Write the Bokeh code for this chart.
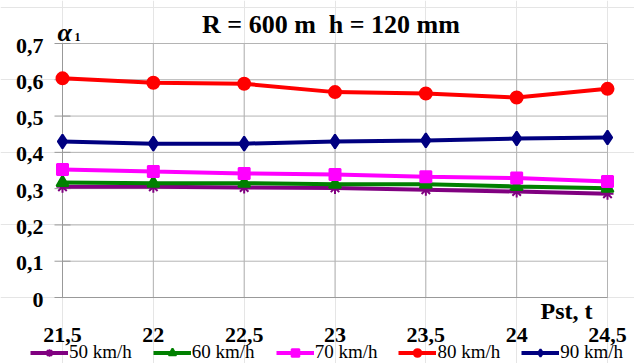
from bokeh.plotting import figure, ColumnDataSource
from bokeh.models import Legend, LegendItem, Range1d
from bokeh.core.properties import value
from bokeh.embed import file_html
from bokeh.resources import INLINE

# ---- data ----
pst = [21.5, 22, 22.5, 23, 23.5, 24, 24.5]
x_tick_labels = ["21,5", "22", "22,5", "23", "23,5", "24", "24,5"]
y_ticks = [0, 0.1, 0.2, 0.3, 0.4, 0.5, 0.6, 0.7]
y_tick_labels = ["0", "0,1", "0,2", "0,3", "0,4", "0,5", "0,6", "0,7"]
v50 = [0.305, 0.305, 0.303, 0.302, 0.297, 0.292, 0.286]
v60 = [0.317, 0.315, 0.315, 0.312, 0.312, 0.306, 0.301]
v70 = [0.353, 0.347, 0.342, 0.339, 0.333, 0.329, 0.320]
v80 = [0.604, 0.592, 0.589, 0.566, 0.562, 0.551, 0.575]
v90 = [0.430, 0.424, 0.424, 0.430, 0.433, 0.438, 0.441]
series_names = ["50 km/h", "60 km/h", "70 km/h", "80 km/h", "90 km/h"]
title_text = "R = 600 m \u00a0h = 120 mm"
x_title = "Pst, t"

FONT = value("Liberation Serif")

# plot area 21.5..24.5 x 0..0.7; the frame covers the whole canvas so that
# all texts can be drawn around the plot area
x_lo, x_hi = pst[0], pst[-1]
y_lo, y_hi = y_ticks[0], y_ticks[-1]
W, H = 634, 363
L, T = 62, 43
R, B = W - 607, H - 297
px_x = (W - L - R) / (x_hi - x_lo)
px_y = (H - T - B) / (y_hi - y_lo)
p = figure(width=W, height=H, output_backend="svg", toolbar_location=None,
           x_range=Range1d(x_lo - L / px_x, x_hi + R / px_x),
           y_range=Range1d(y_lo - B / px_y, y_hi + T / px_y),
           x_axis_location=None, y_axis_location=None, min_border=0)
p.outline_line_color = None
p.background_fill_color = "white"
p.border_fill_color = "white"

GRID = "#b4b4b4"
AX = "#999999"
# grid lines (from the tick arrays)
p.multi_line(xs=[[x, x] for x in pst], ys=[[y_lo, y_hi] for _ in pst],
             line_color=GRID, line_width=1)
p.multi_line(xs=[[x_lo, x_hi] for _ in y_ticks], ys=[[y, y] for y in y_ticks],
             line_color=GRID, line_width=1)
# axis lines
p.line(x=[x_lo, x_lo], y=[y_hi, y_lo], line_color=AX, line_width=1)
p.line(x=[x_lo, x_hi], y=[y_lo, y_lo], line_color=AX, line_width=1)
# y tick marks
p.scatter(x=[x_lo] * len(y_ticks), y=y_ticks, marker="dash", size=16,
          line_color=AX, line_width=1)

# tick labels
p.text(x=[x_lo] * len(y_ticks), y=y_ticks, text=y_tick_labels, x_offset=-19, y_offset=2,
       text_align="right", text_baseline="middle", text_font=FONT,
       text_font_style="bold", text_font_size="22px", text_color="black")
p.text(x=pst, y=[y_lo] * len(pst), text=x_tick_labels, y_offset=37,
       text_align="center", text_baseline="middle", text_font=FONT,
       text_font_style="bold", text_font_size="22px", text_color="black")

# series
colors = ["#800080", "#008000", "#FF00FF", "#FF0000", "#000080"]
markers = ["asterisk", "triangle", "square", "circle", "diamond"]
sizes = [12, 12, 11, 12, 14]
items = []
for name, vals, c, m, s in zip(series_names, [v50, v60, v70, v80, v90], colors, markers, sizes):
    src = ColumnDataSource(dict(x=pst, y=vals))
    ln = p.line("x", "y", source=src, line_color=c, line_width=4)
    sc = p.scatter("x", "y", source=src, marker=m, size=s, fill_color=c,
                   line_color=c, line_width=2)
    items.append(LegendItem(label=name, renderers=[ln, sc]))

# titles
x_mid = (x_lo + x_hi) / 2
p.text(x=[x_mid], y=[y_hi], text=[title_text], x_offset=-4, y_offset=-19,
       text_align="center", text_baseline="middle", text_font=FONT,
       text_font_style="bold", text_font_size="26px", text_color="black")
p.text(x=[x_lo], y=[y_hi], text=["\u03b1"], x_offset=-5, y_offset=-11,
       text_align="left", text_baseline="middle", text_font=FONT,
       text_font_style="bold italic", text_font_size="26px", text_color="black")
p.text(x=[x_lo], y=[y_hi], text=["1"], x_offset=12, y_offset=-7,
       text_align="left", text_baseline="middle", text_font=FONT,
       text_font_style="bold", text_font_size="12px", text_color="black")
p.text(x=[x_hi], y=[y_lo], text=[x_title], x_offset=-15, y_offset=13,
       text_align="right", text_baseline="middle", text_font=FONT,
       text_font_style="bold", text_font_size="24px", text_color="black")

legend = Legend(items=items, orientation="horizontal", location=(30, 0),
                label_text_font="Liberation Serif", label_text_font_size="19px",
                label_text_color="black", glyph_width=38, glyph_height=19,
                label_height=19, label_standoff=1, spacing=21, padding=0,
                margin=0, background_fill_alpha=0, border_line_alpha=0)
p.add_layout(legend, "center")

open("out.html", "w").write(file_html(p, INLINE))
